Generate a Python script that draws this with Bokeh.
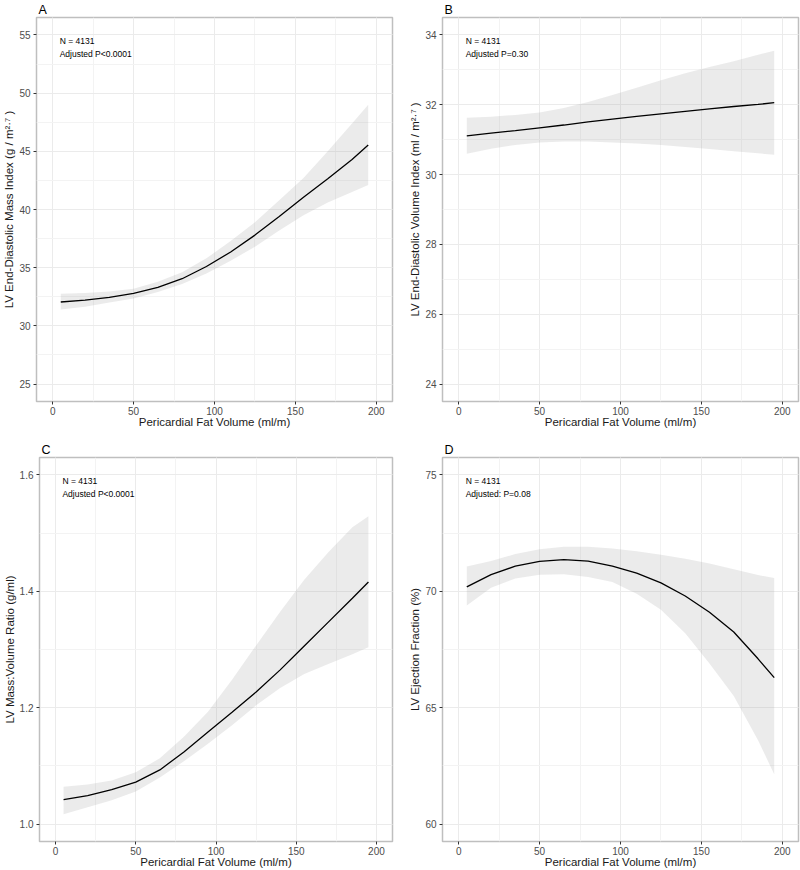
from bokeh.plotting import figure
from bokeh.layouts import column, row
from bokeh.models import SingleIntervalTicker, Range1d, Label, PrintfTickFormatter
from bokeh.embed import file_html
from bokeh.resources import INLINE

# ---------------- data ----------------
fat_volume = [5, 20, 35, 50, 65, 80, 95, 110, 125, 140, 155, 170, 185, 195]

mass_fit = [32.05, 32.22, 32.45, 32.8, 33.3, 34.05, 35.1, 36.35, 37.8, 39.4, 41.05, 42.65, 44.3, 45.55]
mass_hi = [32.75, 32.82, 32.95, 33.2, 33.8, 34.6, 35.8, 37.3, 38.9, 40.8, 42.7, 45.0, 47.4, 49.0]
mass_lo = [31.4, 31.65, 32.0, 32.35, 32.9, 33.6, 34.5, 35.6, 36.8, 38.2, 39.5, 40.6, 41.5, 42.1]

vol_fit = [31.11, 31.19, 31.26, 31.34, 31.42, 31.51, 31.59, 31.67, 31.74, 31.81, 31.88, 31.95, 32.01, 32.06]
vol_hi = [31.63, 31.66, 31.71, 31.78, 31.91, 32.08, 32.28, 32.49, 32.7, 32.9, 33.08, 33.25, 33.43, 33.55]
vol_lo = [30.6, 30.74, 30.85, 30.92, 30.95, 30.95, 30.92, 30.89, 30.85, 30.79, 30.73, 30.67, 30.61, 30.57]

ratio_fit = [1.042, 1.049, 1.059, 1.072, 1.093, 1.124, 1.158, 1.192, 1.227, 1.265, 1.306, 1.347, 1.388, 1.416]
ratio_hi = [1.064, 1.068, 1.075, 1.089, 1.113, 1.150, 1.193, 1.248, 1.307, 1.365, 1.420, 1.467, 1.510, 1.529]
ratio_lo = [1.017, 1.029, 1.041, 1.056, 1.080, 1.108, 1.138, 1.170, 1.204, 1.234, 1.258, 1.275, 1.292, 1.304]

ef_fit = [70.19, 70.72, 71.08, 71.29, 71.36, 71.30, 71.08, 70.78, 70.36, 69.80, 69.10, 68.25, 67.10, 66.29]
ef_hi = [71.07, 71.30, 71.60, 71.81, 71.92, 71.92, 71.84, 71.72, 71.57, 71.40, 71.20, 70.95, 70.70, 70.57]
ef_lo = [69.39, 70.15, 70.55, 70.71, 70.73, 70.62, 70.40, 69.90, 69.21, 68.20, 66.90, 65.50, 63.60, 62.14]

panel_letters = ["A", "B", "C", "D"]
x_title = "Pericardial Fat Volume (ml/m)"
y_titles = [
    "LV End-Diastolic Mass Index (g / m\u00b2\u00b7\u2077 )",
    "LV End-Diastolic Volume Index (ml / m\u00b2\u00b7\u2077 )",
    "LV Mass:Volume Ratio (g/ml)",
    "LV Ejection Fraction (%)",
]
n_text = "N = 4131"
p_texts = ["Adjusted P<0.0001", "Adjusted P=0.30", "Adjusted P<0.0001", "Adjusted: P=0.08"]

x_limits = (-10, 210)
x_tick_step = 50
y_limits = [(23.5, 56.5), (23.5, 34.5), (0.97, 1.63), (59.25, 75.75)]
y_tick_steps = [5, 2, 0.2, 5]
y_formats = [None, None, "%.1f", None]

FONT = "Liberation Sans"


def make_panel(k, xs, fit, hi, lo, width, height, left, right, top, bottom):
    ylo, yhi = y_limits[k]
    p = figure(
        width=width, height=height,
        output_backend="svg", toolbar_location=None,
        x_range=Range1d(*x_limits), y_range=Range1d(ylo, yhi),
        min_border_left=left, min_border_right=right,
        min_border_top=top, min_border_bottom=bottom,
        title=panel_letters[k],
    )
    p.background_fill_color = "white"
    p.border_fill_color = "white"
    p.outline_line_color = "#bfbfbf"
    p.outline_line_width = 1.5

    p.title.text_font = FONT
    p.title.text_font_size = "12.5px"
    p.title.text_font_style = "normal"
    p.title.text_color = "#000000"
    p.title.align = "left"
    p.title.standoff = 1
    p.title.offset = 2

    p.xaxis.ticker = SingleIntervalTicker(interval=x_tick_step, num_minor_ticks=2)
    p.yaxis.ticker = SingleIntervalTicker(interval=y_tick_steps[k], num_minor_ticks=2)
    if y_formats[k]:
        p.yaxis.formatter = PrintfTickFormatter(format=y_formats[k])

    for ax in (p.xaxis[0], p.yaxis[0]):
        ax.axis_line_color = None
        ax.major_tick_line_color = "#333333"
        ax.major_tick_in = 0
        ax.major_tick_out = 3
        ax.minor_tick_line_color = None
        ax.major_label_text_font = FONT
        ax.major_label_text_font_size = "10px"
        ax.major_label_text_color = "#4d4d4d"
        ax.major_label_standoff = 2
        ax.axis_label_text_font = FONT
        ax.axis_label_text_font_size = "11.5px"
        ax.axis_label_text_font_style = "normal"
        ax.axis_label_text_color = "#1a1a1a"
        ax.axis_label_standoff = 1
    p.xaxis.major_label_standoff = 1
    p.xaxis.axis_label_standoff = -2
    p.xaxis.axis_label = x_title
    p.yaxis.axis_label = y_titles[k]

    for g in (p.xgrid[0], p.ygrid[0]):
        g.grid_line_color = "#ebebeb"
        g.grid_line_width = 1
        g.minor_grid_line_color = "#f3f3f3"
        g.minor_grid_line_width = 1

    p.varea(x=xs, y1=lo, y2=hi, fill_color="#999999", fill_alpha=0.2)
    p.line(x=xs, y=fit, line_color="#000000", line_width=1.3)

    # annotation text placed just below the top of the panel
    span = yhi - ylo
    y1 = yhi - 0.062 * span
    y2 = yhi - 0.095 * span
    for txt, yy in ((n_text, y1), (p_texts[k], y2)):
        p.add_layout(Label(x=4.3, y=yy, text=txt, text_font=FONT,
                           text_font_size="8.5px", text_color="#000000",
                           text_baseline="middle", text_align="left"))
    return p


pA = make_panel(0, fat_volume, mass_fit, mass_hi, mass_lo, 400, 430, 36, 8, 16, 27)
pB = make_panel(1, fat_volume, vol_fit, vol_hi, vol_lo, 400, 430, 42, 2, 16, 27)
pC = make_panel(2, fat_volume, ratio_fit, ratio_hi, ratio_lo, 400, 440, 36, 8, 27, 27)
pD = make_panel(3, fat_volume, ef_fit, ef_hi, ef_lo, 400, 440, 42, 2, 27, 27)

layout = column(row(pA, pB), row(pC, pD))

with open("out.html", "w") as f:
    f.write(file_html(layout, INLINE))
